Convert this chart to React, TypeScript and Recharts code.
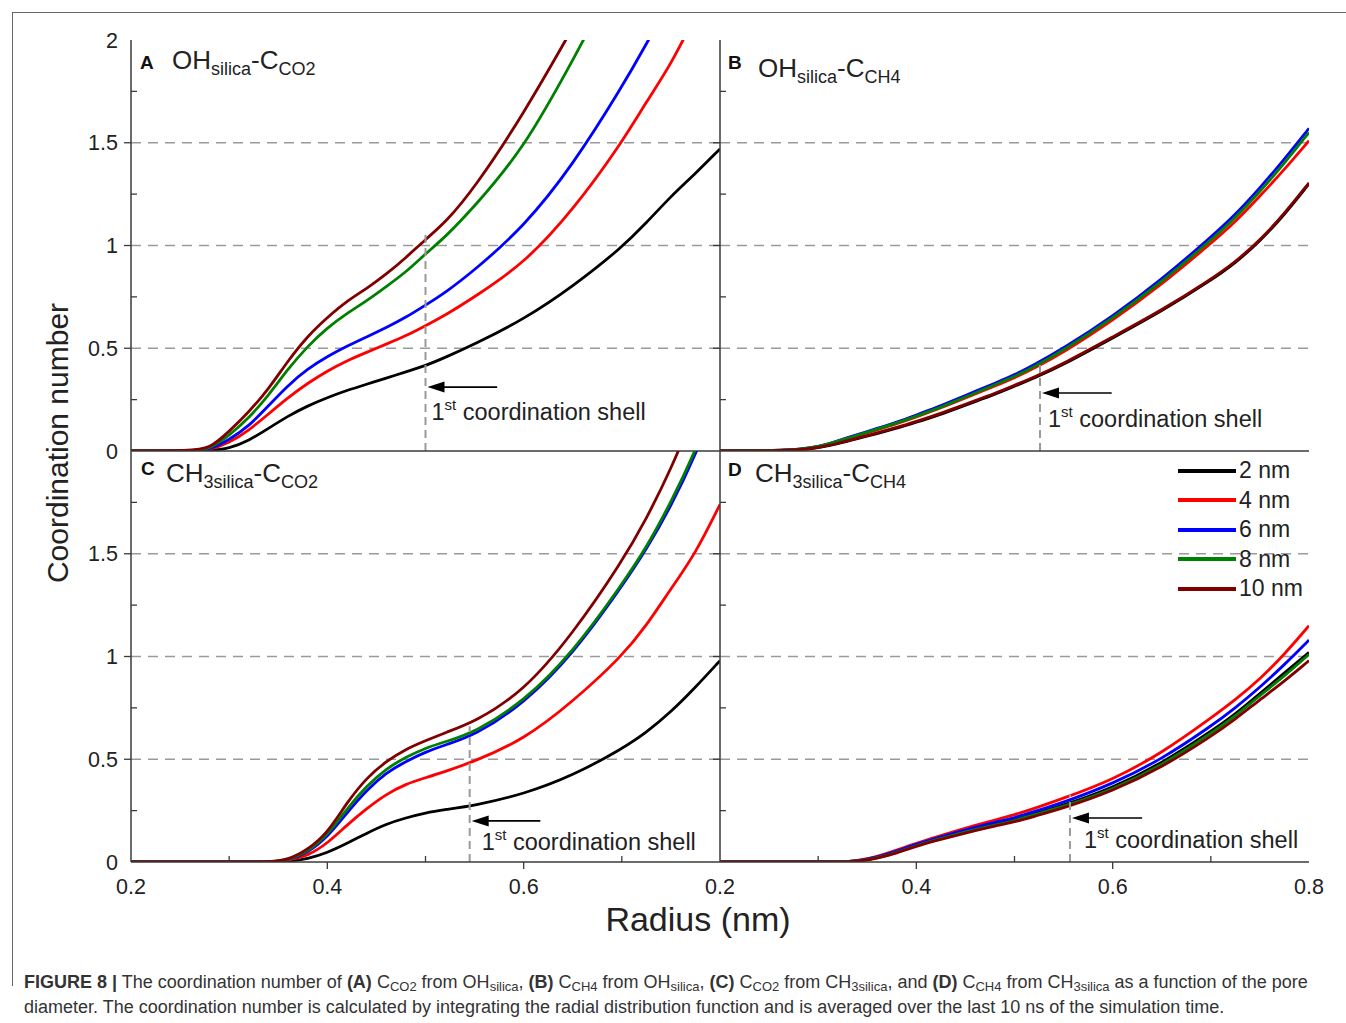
import React from 'react'
import { LineChart, Line, XAxis, YAxis, ReferenceLine, Legend } from 'recharts'

// radius grid (nm) shared by every curve
const RADIUS = [0.2, 0.26, 0.28, 0.3, 0.32, 0.34, 0.36, 0.38, 0.4, 0.42, 0.44, 0.46, 0.48, 0.5, 0.52, 0.55, 0.6, 0.65, 0.7, 0.725, 0.75, 0.775, 0.8]

const PORE_SIZES = ['2 nm', '4 nm', '6 nm', '8 nm', '10 nm']
const PORE_COLORS = ['#000000', '#ff0000', '#0000ff', '#008000', '#800000']

const X_TICKS = [0.2, 0.3, 0.4, 0.5, 0.6, 0.7, 0.8]
const Y_TICKS = [0, 0.25, 0.5, 0.75, 1, 1.25, 1.5, 1.75, 2]
const GRID_Y = [0.5, 1, 1.5]

// (A) OH silica - C CO2
const A_2NM = [0, 0, 0.002, 0.012, 0.05, 0.11, 0.17, 0.22, 0.26, 0.295, 0.325, 0.355, 0.385, 0.415, 0.455, 0.52, 0.64, 0.8, 0.99, 1.11, 1.24, 1.35, 1.47]
const A_4NM = [0, 0, 0.004, 0.04, 0.1, 0.18, 0.26, 0.33, 0.39, 0.44, 0.48, 0.52, 0.56, 0.61, 0.66, 0.75, 0.91, 1.17, 1.5, 1.7, 1.88, 2.12, null]
const A_6NM = [0, 0, 0.005, 0.055, 0.12, 0.22, 0.32, 0.4, 0.46, 0.51, 0.555, 0.6, 0.65, 0.71, 0.77, 0.88, 1.09, 1.39, 1.77, 1.98, 2.2, null, null]
const A_8NM = [0, 0.001, 0.007, 0.075, 0.16, 0.27, 0.4, 0.51, 0.6, 0.67, 0.73, 0.8, 0.87, 0.96, 1.04, 1.19, 1.47, 1.9, 2.35, null, null, null, null]
const A_10NM = [0, 0.002, 0.01, 0.095, 0.19, 0.3, 0.44, 0.56, 0.65, 0.73, 0.79, 0.86, 0.94, 1.03, 1.11, 1.28, 1.64, 2.06, null, null, null, null, null]

// (B) OH silica - C CH4
const B_2NM = [0, 0.001, 0.005, 0.015, 0.035, 0.06, 0.085, 0.11, 0.14, 0.17, 0.205, 0.24, 0.275, 0.315, 0.355, 0.42, 0.55, 0.68, 0.83, 0.915, 1.02, 1.15, 1.3]
const B_4NM = [0, 0.002, 0.007, 0.019, 0.046, 0.074, 0.103, 0.132, 0.166, 0.2, 0.238, 0.277, 0.316, 0.356, 0.402, 0.48, 0.635, 0.81, 1.01, 1.115, 1.24, 1.37, 1.51]
const B_6NM = [0, 0.002, 0.008, 0.02, 0.05, 0.08, 0.11, 0.14, 0.175, 0.21, 0.25, 0.29, 0.33, 0.37, 0.42, 0.5, 0.655, 0.835, 1.04, 1.15, 1.28, 1.42, 1.57]
const B_8NM = [0, 0.002, 0.008, 0.02, 0.048, 0.077, 0.106, 0.136, 0.17, 0.204, 0.243, 0.282, 0.322, 0.362, 0.41, 0.49, 0.645, 0.822, 1.025, 1.135, 1.262, 1.4, 1.55]
const B_10NM = [0, 0.001, 0.005, 0.016, 0.037, 0.062, 0.088, 0.114, 0.144, 0.175, 0.21, 0.245, 0.28, 0.32, 0.36, 0.425, 0.555, 0.685, 0.835, 0.92, 1.025, 1.155, 1.305]

// (C) CH3 silica - C CO2
const C_2NM = [0, 0, 0, 0, 0, 0, 0.003, 0.015, 0.045, 0.09, 0.14, 0.185, 0.215, 0.24, 0.255, 0.275, 0.33, 0.42, 0.55, 0.63, 0.73, 0.85, 0.98]
const C_4NM = [0, 0, 0, 0, 0, 0, 0.006, 0.03, 0.09, 0.18, 0.26, 0.33, 0.38, 0.41, 0.44, 0.49, 0.595, 0.78, 1.0, 1.15, 1.33, 1.5, 1.74]
const C_6NM = [0, 0, 0, 0, 0, 0, 0.007, 0.045, 0.12, 0.24, 0.35, 0.435, 0.49, 0.535, 0.57, 0.615, 0.77, 1.01, 1.34, 1.52, 1.73, 1.98, 2.28]
const C_8NM = [0, 0, 0, 0, 0, 0, 0.008, 0.05, 0.13, 0.26, 0.37, 0.455, 0.51, 0.555, 0.585, 0.63, 0.78, 1.02, 1.35, 1.53, 1.75, 2.0, 2.3]
const C_10NM = [0, 0, 0, 0, 0, 0, 0.01, 0.06, 0.14, 0.29, 0.41, 0.49, 0.55, 0.59, 0.63, 0.68, 0.83, 1.11, 1.46, 1.67, 1.91, 2.2, null]

// (D) CH3 silica - C CH4
const D_2NM = [0, 0, 0, 0, 0, 0.003, 0.02, 0.048, 0.082, 0.11, 0.137, 0.162, 0.185, 0.205, 0.235, 0.275, 0.36, 0.48, 0.635, 0.72, 0.82, 0.92, 1.02]
const D_4NM = [0, 0, 0, 0, 0, 0.005, 0.026, 0.057, 0.092, 0.122, 0.151, 0.178, 0.204, 0.23, 0.26, 0.31, 0.4, 0.53, 0.7, 0.79, 0.89, 1.01, 1.15]
const D_6NM = [0, 0, 0, 0, 0, 0.004, 0.023, 0.053, 0.087, 0.116, 0.143, 0.169, 0.193, 0.215, 0.245, 0.29, 0.38, 0.5, 0.66, 0.75, 0.85, 0.96, 1.08]
const D_8NM = [0, 0, 0, 0, 0, 0.003, 0.019, 0.046, 0.08, 0.108, 0.134, 0.158, 0.18, 0.2, 0.23, 0.27, 0.352, 0.47, 0.625, 0.71, 0.81, 0.905, 1.01]
const D_10NM = [0, 0, 0, 0, 0, 0.002, 0.017, 0.043, 0.077, 0.104, 0.129, 0.153, 0.175, 0.195, 0.222, 0.262, 0.345, 0.46, 0.61, 0.695, 0.79, 0.88, 0.98]

const INK = '#222'
const FRAME = '#3a3a3a'
const DASH = '#9a9a9a'
const FONT = '"Liberation Sans", Arial, Helvetica, sans-serif'

const PLOT_W = 589
const PLOT_H = 411
const AXIS_W = 60
const AXIS_H = 50
const PAD = 12
const PAD_R = 30

type Shell = { x: number; top: number; arrowY: number; arrowEnd: number; dx: number; dy: number }

type PanelCfg = {
  id: string
  left: number
  top: number
  series: (number | null)[][]
  shell: Shell
  xLabels: number[]
  yLabels: number[]
  legend?: boolean
}

const PANELS: PanelCfg[] = [
  {
    id: 'A', left: 131, top: 40,
    series: [A_2NM, A_4NM, A_6NM, A_8NM, A_10NM],
    shell: { x: 0.5, top: 1.07, arrowY: 0.311, arrowEnd: 0.573, dx: 6, dy: 33 },
    xLabels: [], yLabels: [0, 0.5, 1, 1.5, 2],
  },
  {
    id: 'B', left: 720, top: 40,
    series: [B_2NM, B_4NM, B_6NM, B_8NM, B_10NM],
    shell: { x: 0.526, top: 0.44, arrowY: 0.282, arrowEnd: 0.599, dx: 8, dy: 34 },
    xLabels: [], yLabels: [],
  },
  {
    id: 'C', left: 131, top: 451,
    series: [C_2NM, C_4NM, C_6NM, C_8NM, C_10NM],
    shell: { x: 0.545, top: 0.66, arrowY: 0.2, arrowEnd: 0.617, dx: 12, dy: 29 },
    xLabels: [0.2, 0.4, 0.6], yLabels: [0, 0.5, 1, 1.5],
  },
  {
    id: 'D', left: 720, top: 451,
    series: [D_2NM, D_4NM, D_6NM, D_8NM, D_10NM],
    shell: { x: 0.5565, top: 0.33, arrowY: 0.214, arrowEnd: 0.63, dx: 14, dy: 30 },
    xLabels: [0.2, 0.4, 0.6, 0.8], yLabels: [],
    legend: true,
  },
]

const isMult = (v: number, step: number) => Math.abs(v / step - Math.round(v / step)) < 1e-6

function BottomTick(props: any) {
  const { x, y, payload, labels } = props
  const v = payload.value
  if (!labels || labels.length === 0) return <g />
  const major = isMult(v, 0.2)
  const showLabel = labels.some((l: number) => Math.abs(l - v) < 1e-6)
  return (
    <g>
      {v > 0.2 && v < 0.8 && (
        <line x1={x} x2={x} y1={y} y2={major ? y + 7 : y - 6} stroke={FRAME} strokeWidth={1.3} />
      )}
      {showLabel && (
        <text x={x} y={y + 32} textAnchor="middle" fontSize={21.5} fill={INK}>
          {v.toFixed(1)}
        </text>
      )}
    </g>
  )
}

function TopTick(props: any) {
  const { x, y, payload } = props
  const v = payload.value
  if (v <= 0.2 || v >= 0.8) return <g />
  return <line x1={x} x2={x} y1={y} y2={y + 6} stroke={FRAME} strokeWidth={1.3} />
}

function LeftTick(props: any) {
  const { x, y, payload, labels } = props
  const v = payload.value
  const major = isMult(v, 0.5)
  const showLabel = labels.some((l: number) => Math.abs(l - v) < 1e-6)
  return (
    <g>
      {v > 0 && v < 2 && (
        <line x1={x} x2={major ? x - 7 : x + 6} y1={y} y2={y} stroke={FRAME} strokeWidth={1.3} />
      )}
      {showLabel && (
        <text x={x - 13} y={y + 7.5} textAnchor="end" fontSize={21.5} fill={INK}>
          {String(v)}
        </text>
      )}
    </g>
  )
}

function RightTick(props: any) {
  const { x, y, payload } = props
  const v = payload.value
  if (v <= 0 || v >= 2) return <g />
  return <line x1={x} x2={x - 6} y1={y} y2={y} stroke={FRAME} strokeWidth={1.3} />
}

function makeShellArrow(shell: Shell) {
  return function ShellArrow(props: any) {
    const { x1, y1, x2 } = props
    const tip = x1 + 2
    return (
      <g>
        <line x1={tip + 12} y1={y1} x2={x2} y2={y1} stroke="#000" strokeWidth={1.6} />
        <polygon points={`${tip},${y1} ${tip + 17},${y1 - 5.5} ${tip + 17},${y1 + 5.5}`} fill="#000" />
        <text x={x1 + shell.dx} y={y1 + shell.dy} fontSize={23.5} fill={INK}>
          1<tspan dy={-10} fontSize={15}>st</tspan><tspan dy={10}> coordination shell</tspan>
        </text>
      </g>
    )
  }
}

function PoreLegend(props: any) {
  const items = [...(props.payload || [])].sort(
    (a: any, b: any) => PORE_SIZES.indexOf(a.value) - PORE_SIZES.indexOf(b.value),
  )
  return (
    <div>
      {items.map((e: any) => (
        <div key={e.value} style={{ height: 29.5, display: 'flex', alignItems: 'center' }}>
          <svg width={58} height={6}>
            <line x1={0} x2={58} y1={3} y2={3} stroke={e.color} strokeWidth={4} />
          </svg>
          <span style={{ fontSize: 23, marginLeft: 3, color: INK, lineHeight: 1 }}>{e.value}</span>
        </div>
      ))}
    </div>
  )
}

function Panel({ cfg }: { cfg: PanelCfg }) {
  const data = RADIUS.map((r, i) => {
    const row: Record<string, number | null> = { r }
    cfg.series.forEach((s, k) => {
      row[PORE_SIZES[k]] = s[i]
    })
    return row
  })
  const chartLeft = cfg.left - AXIS_W
  const chartTop = cfg.top - PAD
  const axisLine = { stroke: FRAME, strokeWidth: 1.5 }

  return (
    <div style={{ position: 'absolute', left: chartLeft, top: chartTop }}>
      <LineChart
        width={AXIS_W + PLOT_W + PAD_R}
        height={PAD + PLOT_H + AXIS_H}
        data={data}
        margin={{ top: PAD, right: PAD_R, bottom: 0, left: 0 }}
      >
        <XAxis
          xAxisId="b" dataKey="r" type="number" domain={[0.2, 0.8]} ticks={X_TICKS} interval={0}
          height={AXIS_H} tickSize={0} tickMargin={0} tickLine={false} axisLine={axisLine}
          tick={<BottomTick labels={cfg.xLabels} />} allowDataOverflow
        />
        <XAxis
          xAxisId="t" orientation="top" type="number" domain={[0.2, 0.8]} ticks={X_TICKS} interval={0}
          height={0} tickSize={0} tickMargin={0} tickLine={false} axisLine={axisLine}
          tick={<TopTick />} allowDataOverflow
        />
        <YAxis
          yAxisId="l" type="number" domain={[0, 2]} ticks={Y_TICKS} interval={0}
          width={AXIS_W} tickSize={0} tickMargin={0} tickLine={false} axisLine={axisLine}
          tick={<LeftTick labels={cfg.yLabels} />} allowDataOverflow
        />
        <YAxis
          yAxisId="r" orientation="right" type="number" domain={[0, 2]} ticks={Y_TICKS} interval={0}
          width={0} tickSize={0} tickMargin={0} tickLine={false} axisLine={axisLine}
          tick={<RightTick />} allowDataOverflow
        />
        {GRID_Y.map((v) => (
          <ReferenceLine key={v} xAxisId="b" yAxisId="l" y={v} stroke={DASH} strokeWidth={1.6} strokeDasharray="10 7" />
        ))}
        {cfg.series.map((_, k) => (
          <Line
            key={PORE_SIZES[k]}
            xAxisId="b"
            yAxisId="l"
            type="basis"
            dataKey={PORE_SIZES[k]}
            name={PORE_SIZES[k]}
            stroke={PORE_COLORS[k]}
            strokeWidth={2.8}
            dot={false}
            activeDot={false}
            isAnimationActive={false}
          />
        ))}
        <ReferenceLine
          xAxisId="b" yAxisId="l"
          segment={[{ x: cfg.shell.x, y: 0 }, { x: cfg.shell.x, y: cfg.shell.top }]}
          stroke={DASH} strokeWidth={2} strokeDasharray="8 5"
        />
        <ReferenceLine
          xAxisId="b" yAxisId="l"
          segment={[{ x: cfg.shell.x, y: cfg.shell.arrowY }, { x: cfg.shell.arrowEnd, y: cfg.shell.arrowY }]}
          stroke="#000"
          shape={makeShellArrow(cfg.shell)}
        />
        {cfg.legend && (
          <Legend
            layout="vertical"
            align="center"
            verticalAlign="middle"
            content={<PoreLegend />}
            wrapperStyle={{ left: 1178 - chartLeft, top: 456 - chartTop, width: 'auto', height: 'auto' }}
          />
        )}
      </LineChart>
    </div>
  )
}

function Formula({ x, y, main, sub1, sub2 }: { x: number; y: number; main: string; sub1: string; sub2: string }) {
  return (
    <text x={x} y={y} fontSize={26} fill={INK}>
      {main}
      <tspan dy={6} fontSize={18}>{sub1}</tspan>
      <tspan dy={-6}>-C</tspan>
      <tspan dy={6} fontSize={18}>{sub2}</tspan>
    </text>
  )
}

const SUB = { fontSize: 13, lineHeight: 0, verticalAlign: '-3px' }

export default function App() {
  return (
    <div
      style={{
        position: 'absolute', left: 0, top: 0, width: 1346, height: 1023,
        background: '#fff', overflow: 'hidden', fontFamily: FONT, color: INK,
      }}
    >
      <div style={{ position: 'absolute', left: 12, top: 12, width: 1346, height: 973, borderTop: '1px solid #666', borderLeft: '1px solid #666' }} />

      {PANELS.map((p) => (
        <Panel key={p.id} cfg={p} />
      ))}

      <svg width={1346} height={960} style={{ position: 'absolute', left: 0, top: 0, pointerEvents: 'none' }}>
        <text x={140} y={69} fontSize={19} fontWeight="bold" fill="#111">A</text>
        <Formula x={172} y={69} main="OH" sub1="silica" sub2="CO2" />
        <text x={728} y={69} fontSize={19} fontWeight="bold" fill="#111">B</text>
        <Formula x={758} y={77} main="OH" sub1="silica" sub2="CH4" />
        <text x={141} y={475} fontSize={19} fontWeight="bold" fill="#111">C</text>
        <Formula x={166} y={482} main="CH" sub1="3silica" sub2="CO2" />
        <text x={728} y={476} fontSize={19} fontWeight="bold" fill="#111">D</text>
        <Formula x={755} y={482} main="CH" sub1="3silica" sub2="CH4" />

        <text x={698} y={931} fontSize={34} textAnchor="middle" fill={INK}>Radius (nm)</text>
        <text
          x={57} y={443} fontSize={30} textAnchor="middle" dominantBaseline="central"
          transform="rotate(-90 57 443)" fill={INK}
        >
          Coordination number
        </text>
      </svg>

      <div style={{ position: 'absolute', left: 24, top: 970, fontSize: 18, lineHeight: '25px', color: '#333', whiteSpace: 'nowrap' }}>
        <b>FIGURE 8 |</b> The coordination number of <b>(A)</b> C<sub style={SUB}>CO2</sub> from OH<sub style={SUB}>silica</sub>,{' '}
        <b>(B)</b> C<sub style={SUB}>CH4</sub> from OH<sub style={SUB}>silica</sub>, <b>(C)</b> C<sub style={SUB}>CO2</sub> from
        CH<sub style={SUB}>3silica</sub>, and <b>(D)</b> C<sub style={SUB}>CH4</sub> from CH<sub style={SUB}>3silica</sub> as a function of the pore
        <br />
        diameter. The coordination number is calculated by integrating the radial distribution function and is averaged over the last 10 ns of the simulation time.
      </div>
    </div>
  )
}
